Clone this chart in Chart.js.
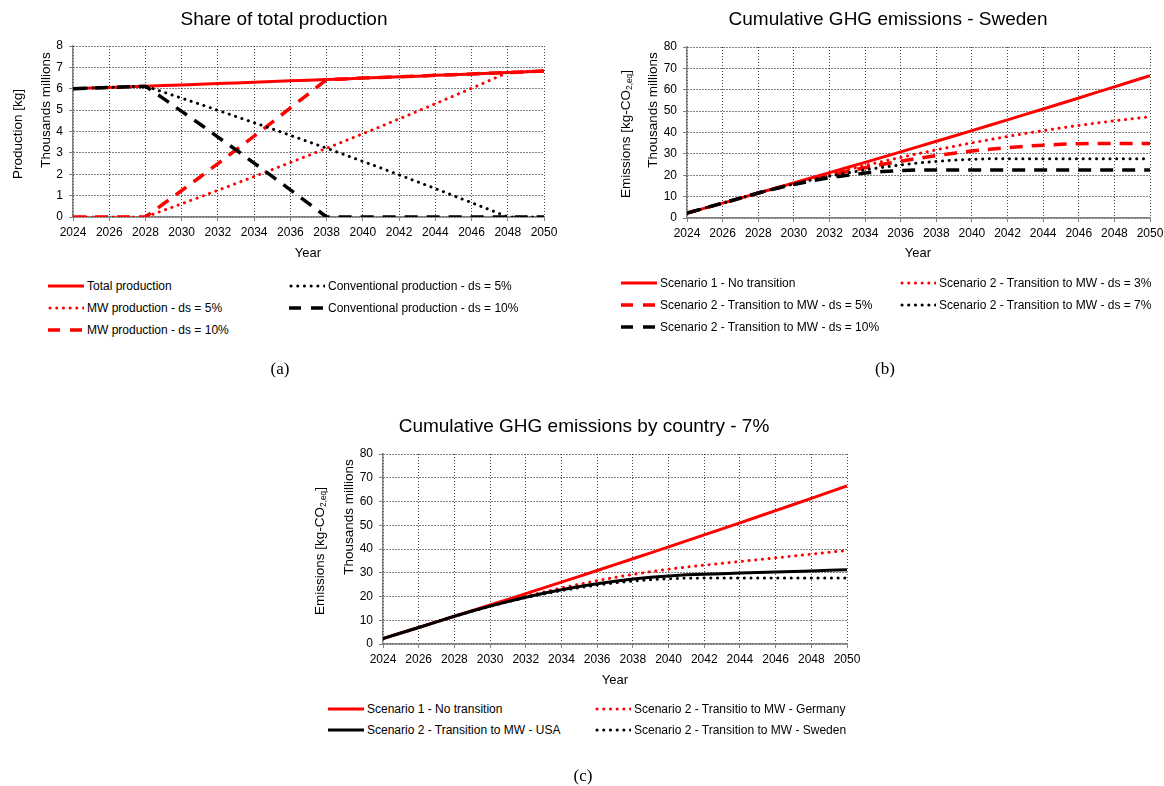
<!DOCTYPE html>
<html>
<head>
<meta charset="utf-8">
<script src="https://cdn.jsdelivr.net/npm/chart.js@4.4.1/dist/chart.umd.min.js"></script>
<style>
  html, body { margin: 0; padding: 0; background: #fff; }
  body { width: 1164px; height: 786px; overflow: hidden; position: relative;
         font-family: "Liberation Sans", Arial, sans-serif; color: #000; }
  canvas { position: absolute; }
  .t { position: absolute; white-space: nowrap; transform: translate(-50%, -50%); }
  .title { font-size: 19px; }
  .xt { font-size: 13px; }
  .yt { font-size: 13.5px; transform: translate(-50%, -50%) rotate(-90deg); }
  .yt sub { font-size: 0.62em; vertical-align: -0.25em; }
  .cap { font-family: "Liberation Serif", "Times New Roman", serif; font-size: 17px; }
  .leg { position: absolute; font-size: 12px; white-space: nowrap; display: flex;
         align-items: center; transform: translateY(-50%); }
  .leg svg { margin-right: 3px; }
</style>
</head>
<body>
<canvas id="chart-a" width="580" height="262" style="left:0;top:0"></canvas>
<canvas id="chart-b" width="600" height="262" style="left:580px;top:0"></canvas>
<canvas id="chart-c" width="600" height="282" style="left:300px;top:400px"></canvas>

<div class="t title" style="left:284px;top:19px">Share of total production</div>
<div class="t xt" style="left:308px;top:252px">Year</div>
<div class="t yt" style="left:17px;top:134px">Production [kg]</div>
<div class="t yt" style="left:45px;top:110px">Thousands millions</div>
<div class="t cap" style="left:280px;top:369px">(a)</div>

<div class="t title" style="left:888px;top:19px">Cumulative GHG emissions - Sweden</div>
<div class="t xt" style="left:918px;top:252px">Year</div>
<div class="t yt" style="left:626px;top:134px">Emissions [kg-CO<sub>2,eq</sub>]</div>
<div class="t yt" style="left:652px;top:110px">Thousands millions</div>
<div class="t cap" style="left:885px;top:369px">(b)</div>

<div class="t title" style="left:584px;top:426px">Cumulative GHG emissions by country - 7%</div>
<div class="t xt" style="left:615px;top:679px">Year</div>
<div class="t yt" style="left:320px;top:551px">Emissions [kg-CO<sub>2,eq</sub>]</div>
<div class="t yt" style="left:348px;top:517px">Thousands millions</div>
<div class="t cap" style="left:583px;top:776px">(c)</div>

<script>
const years = [2024, 2025, 2026, 2027, 2028, 2029, 2030, 2031, 2032, 2033, 2034, 2035, 2036, 2037,
  2038, 2039, 2040, 2041, 2042, 2043, 2044, 2045, 2046, 2047, 2048, 2049, 2050];

// (a) production, thousands millions kg
const totalProduction = [6.00, 6.03, 6.06, 6.09, 6.12, 6.15, 6.18, 6.21, 6.24, 6.27, 6.30, 6.34, 6.37, 6.40,
  6.43, 6.46, 6.50, 6.53, 6.56, 6.59, 6.63, 6.66, 6.69, 6.73, 6.76, 6.79, 6.83];
const mwProduction5 = [0, 0, 0, 0, 0, 0.31, 0.62, 0.93, 1.25, 1.57, 1.89, 2.22, 2.55, 2.88,
  3.22, 3.55, 3.90, 4.24, 4.59, 4.94, 5.30, 5.66, 6.02, 6.39, 6.76, 6.79, 6.83];
const mwProduction10 = [0, 0, 0, 0, 0, 0.62, 1.24, 1.86, 2.50, 3.14, 3.78, 4.44, 5.10, 5.76,
  6.43, 6.46, 6.50, 6.53, 6.56, 6.59, 6.63, 6.66, 6.69, 6.73, 6.76, 6.79, 6.83];
const convProduction5 = [6.00, 6.03, 6.06, 6.09, 6.12, 5.84, 5.56, 5.28, 4.99, 4.70, 4.41, 4.12, 3.82, 3.52,
  3.22, 2.91, 2.60, 2.29, 1.97, 1.65, 1.33, 1.00, 0.67, 0.34, 0, 0, 0];
const convProduction10 = [6.00, 6.03, 6.06, 6.09, 6.12, 5.54, 4.94, 4.35, 3.74, 3.14, 2.52, 1.90, 1.27, 0.64,
  0, 0, 0, 0, 0, 0, 0, 0, 0, 0, 0, 0, 0];

// (b) cumulative emissions Sweden, thousands millions kg-CO2,eq
const noTransition = [2.31, 4.63, 6.96, 9.31, 11.67, 14.04, 16.42, 18.81, 21.21, 23.63, 26.05, 28.50, 30.95, 33.41,
  35.89, 38.38, 40.88, 43.40, 45.92, 48.46, 51.01, 53.58, 56.16, 58.75, 61.35, 63.97, 66.60];
const sweden3 = [2.31, 4.63, 6.96, 9.31, 11.67, 13.97, 16.21, 18.39, 20.50, 22.56, 24.55, 26.48, 28.34, 30.14,
  31.88, 33.55, 35.15, 36.68, 38.15, 39.54, 40.87, 42.13, 43.31, 44.43, 45.47, 46.44, 47.33];
const sweden5 = [2.31, 4.63, 6.96, 9.31, 11.67, 13.92, 16.06, 18.10, 20.02, 21.83, 23.53, 25.12, 26.59, 27.95,
  29.19, 30.31, 31.31, 32.19, 32.95, 33.58, 34.09, 34.48, 34.74, 34.87, 34.87, 34.87, 34.87];
const sweden7 = [2.31, 4.63, 6.96, 9.31, 11.67, 13.87, 15.92, 17.81, 19.54, 21.11, 22.52, 23.76, 24.84, 25.76,
  26.50, 27.07, 27.47, 27.70, 27.75, 27.75, 27.75, 27.75, 27.75, 27.75, 27.75, 27.75, 27.75];
const sweden10 = [2.31, 4.63, 6.96, 9.31, 11.67, 13.80, 15.71, 17.38, 18.83, 20.03, 21.01, 21.74, 22.23, 22.47,
  22.47, 22.47, 22.47, 22.47, 22.47, 22.47, 22.47, 22.47, 22.47, 22.47, 22.47, 22.47, 22.47];

// (c) by country, ds = 7%
const germany7 = [2.31, 4.63, 6.96, 9.31, 11.67, 13.92, 16.07, 18.11, 20.04, 21.87, 23.58, 25.18, 26.67, 28.06,
  29.32, 30.47, 31.50, 32.41, 33.21, 33.97, 34.73, 35.50, 36.28, 37.05, 37.84, 38.62, 39.41];
const usa7 = [2.31, 4.63, 6.96, 9.31, 11.67, 13.89, 15.97, 17.90, 19.69, 21.34, 22.84, 24.19, 25.39, 26.45,
  27.35, 28.09, 28.68, 29.11, 29.39, 29.62, 29.85, 30.08, 30.31, 30.54, 30.78, 31.01, 31.25];

const FONT = '"Liberation Sans", Arial, sans-serif';
const RED = '#ff0000';
const BLACK = '#000000';

const LINE = {
  solid: { borderDash: [], borderWidth: 3, borderCapStyle: 'butt' },
  dotted: { borderDash: [0.1, 6.6], borderWidth: 3, borderCapStyle: 'round' },
  dashed: { borderDash: [13, 9], borderWidth: 3.5, borderCapStyle: 'butt' },
};

function points(values) {
  return years.map((x, i) => ({ x, y: values[i] }));
}

function series(label, values, color, kind, order) {
  return { label, data: points(values), borderColor: color, backgroundColor: color, kind, order, ...LINE[kind] };
}

function axes(yMax, yStep) {
  const tickFont = { family: FONT, size: 12 };
  return {
    x: {
      type: 'linear', min: 2024, max: 2050,
      ticks: { stepSize: 2, autoSkip: false, maxRotation: 0, color: '#000', font: tickFont, padding: 4,
        callback: (v) => String(v) },
      grid: { color: '#444', lineWidth: 1, tickLength: 4, tickColor: '#808080' },
      border: { color: '#808080', width: 1.5, dash: [1, 2] },
      afterFit: (s) => { s.height = 24; },
    },
    y: {
      min: 0, max: yMax,
      ticks: { stepSize: yStep, color: '#000', font: tickFont, padding: 6 },
      grid: { color: '#000', lineWidth: 1, tickLength: 4, tickColor: '#808080' },
      border: { color: '#808080', width: 1.5, dash: [1, 2] },
      afterFit: (s) => { s.width = 30; },
    },
  };
}

function makeChart(id, datasets, yMax, yStep, padding) {
  return new Chart(document.getElementById(id), {
    type: 'line',
    data: { datasets },
    options: {
      responsive: false,
      animation: false,
      events: [],
      layout: { padding },
      elements: { point: { radius: 0 }, line: { tension: 0 } },
      plugins: { legend: { display: false }, tooltip: { enabled: false } },
      scales: axes(yMax, yStep),
    },
  });
}

function sampleSvg(color, kind) {
  const w = LINE[kind].borderWidth;
  const dash = kind === 'solid' ? '' : kind === 'dotted' ? '0.1 6.6' : '12 10';
  const cap = kind === 'dotted' ? 'round' : 'butt';
  const x1 = kind === 'dotted' ? 2 : 0;
  return `<svg width="36" height="8"><line x1="${x1}" y1="4" x2="36" y2="4" stroke="${color}" ` +
    `stroke-width="${w}" stroke-dasharray="${dash}" stroke-linecap="${cap}"/></svg>`;
}

function addLegend(datasets, spots) {
  datasets.forEach((ds, i) => {
    const div = document.createElement('div');
    div.className = 'leg';
    div.style.left = spots[i][0] + 'px';
    div.style.top = spots[i][1] + 'px';
    div.innerHTML = sampleSvg(ds.borderColor, ds.kind) + '<span></span>';
    div.querySelector('span').textContent = ds.label;
    document.body.appendChild(div);
  });
}

// (a)
const dsA = [
  series('Total production', totalProduction, RED, 'solid', 3),
  series('Conventional production - ds = 5%', convProduction5, BLACK, 'dotted', 2),
  series('MW production - ds = 5%', mwProduction5, RED, 'dotted', 4),
  series('Conventional production - ds = 10%', convProduction10, BLACK, 'dashed', 1),
  series('MW production - ds = 10%', mwProduction10, RED, 'dashed', 5),
];
makeChart('chart-a', dsA, 8, 1, { left: 43, top: 46, right: 36, bottom: 21 });
addLegend(dsA, [[48, 286], [289, 286], [48, 308], [289, 308], [48, 330]]);

// (b)
const dsB = [
  series('Scenario 1 - No transition', noTransition, RED, 'solid', 5),
  series('Scenario 2 - Transition to MW - ds = 3%', sweden3, RED, 'dotted', 4),
  series('Scenario 2 - Transition to MW - ds = 5%', sweden5, RED, 'dashed', 3),
  series('Scenario 2 - Transition to MW - ds = 7%', sweden7, BLACK, 'dotted', 2),
  series('Scenario 2 - Transition to MW - ds = 10%', sweden10, BLACK, 'dashed', 1),
];
makeChart('chart-b', dsB, 80, 10, { left: 77, top: 47, right: 30, bottom: 20 });
addLegend(dsB, [[621, 283], [900, 283], [621, 305], [900, 305], [621, 327]]);

// (c)
const dsC = [
  series('Scenario 1 - No transition', noTransition, RED, 'solid', 4),
  series('Scenario 2 - Transitio to MW - Germany', germany7, RED, 'dotted', 3),
  series('Scenario 2 - Transition to MW - USA', usa7, BLACK, 'solid', 1),
  series('Scenario 2 - Transition to MW - Sweden', sweden7, BLACK, 'dotted', 2),
];
makeChart('chart-c', dsC, 80, 10, { left: 53, top: 54, right: 53, bottom: 14 });
addLegend(dsC, [[328, 709], [595, 709], [328, 730], [595, 730]]);
</script>
</body>
</html>
